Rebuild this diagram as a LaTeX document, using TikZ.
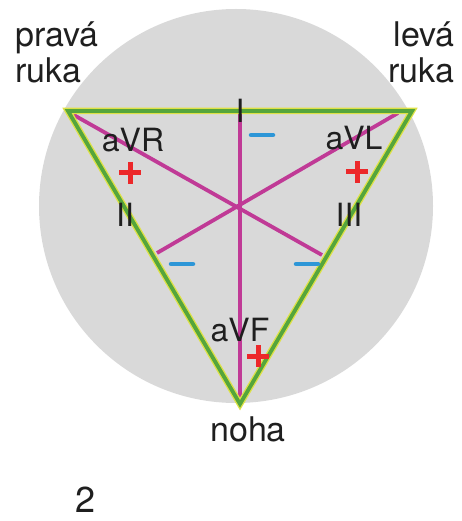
\documentclass[tikz,border=0pt]{standalone}
\usepackage{fontspec}
\setmainfont{TeX Gyre Heros}
\usepackage{xcolor}
\definecolor{halftone}{RGB}{217,217,217}
\definecolor{leadgreen}{RGB}{85,165,60}
\definecolor{leadyellow}{RGB}{222,225,70}
\definecolor{leadpink}{RGB}{192,58,150}
\definecolor{plusred}{RGB}{236,40,42}
\definecolor{minusblue}{RGB}{45,150,215}

\tikzset{
  lbl/.style={inner sep=0pt, text=black!88, font=\fontsize{32}{36}\selectfont},
  limb/.style={lbl, font=\fontsize{34}{38}\selectfont},
  median/.style={leadpink, line width=3.8pt},
  side/.style={line join=miter},
}

\begin{document}
\begin{tikzpicture}[x=1pt,y=-1pt]
        \useasboundingbox (0,0) rectangle (461,521);
        \fill[halftone] (236,206) circle (197);

        % corners of the triangle and middles of its sides
        \coordinate (R) at (68,111);
        \coordinate (L) at (412,111);
        \coordinate (F) at (240,404);
        \coordinate (mRL) at (240,111);
        \coordinate (mRF) at (157,253);
        \coordinate (mLF) at (322,255);

        \draw[median] (72,114) coordinate (aR) -- (mLF);
        \draw[median] (398,113) coordinate (aL) -- (mRF);
        \draw[median] (mRL) -- (F);

        \draw[side, leadyellow, line width=6.5pt] (R) -- (L) -- (F) -- cycle;
        \draw[side, leadgreen, line width=3.8pt] (R) -- (L) -- (F) -- cycle;

        \foreach \x/\y in {130/173,357/172,258/356} {
            \draw[plusred, line width=5pt] (\x-11,\y) -- (\x+11,\y) (\x,\y-11) -- (\x,\y+11);
        }
        \foreach \x/\y in {262/135,182/264,307/264} {
            \draw[minusblue, line width=4.5pt, line cap=round] (\x-11,\y) -- (\x+11,\y);
        }

        \node[limb, anchor=base west] (prava) at (15,47) {pravá};
        \node[limb, anchor=base west] (pruka) at (15,83) {ruka};
        \node[limb, anchor=base east] (leva) at (455,47) {levá};
        \node[limb, anchor=base east] (lruka) at (455,83) {ruka};
        \node[limb, anchor=base] (noha) at (248,441) {noha};

        \node[lbl] (I) at (240,111) {I};
        \node[lbl] (II) at (125,215) {II};
        \node[lbl] (III) at (349,215) {III};
        \node[lbl, anchor=base] (aVR) at (133,152) {aVR};
        \node[lbl, anchor=base] (aVL) at (354,150) {aVL};
        \node[lbl, anchor=base] (aVF) at (240,341) {aVF};

        \node[lbl, anchor=base, font=\fontsize{36}{40}\selectfont] (fig) at (86,512) {2};
    \end{tikzpicture}
\end{document}
